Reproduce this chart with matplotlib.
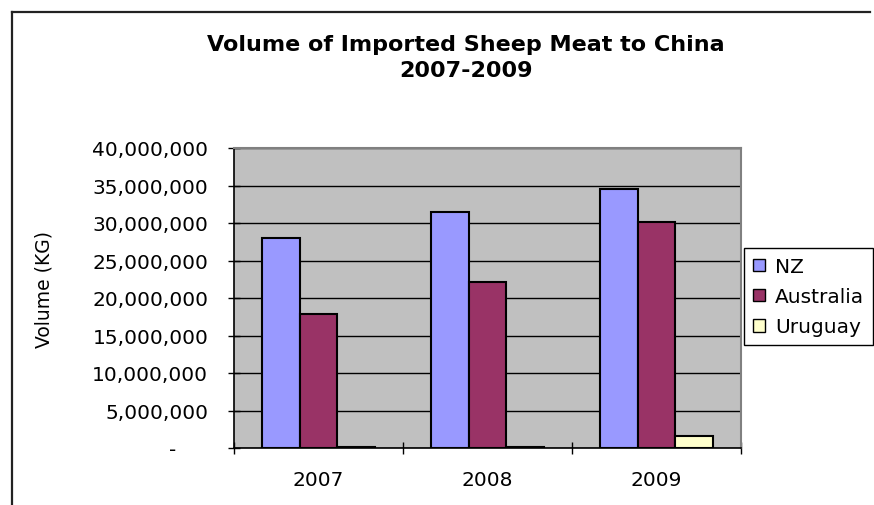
import matplotlib
matplotlib.use('Agg')
import matplotlib.pyplot as plt
import numpy as np
from matplotlib.lines import Line2D
from matplotlib.ticker import FuncFormatter, MultipleLocator, FixedLocator

# Datos
years = ['2007', '2008', '2009']
nz = [28_000_000, 31_500_000, 34_600_000]
australia = [17_900_000, 22_100_000, 30_100_000]
uruguay = [150_000, 150_000, 1_650_000]

series_names = ['NZ', 'Australia', 'Uruguay']
series_colors = ['#9999FF', '#993366', '#FFFFCC']

W, H = 874, 506
fig = plt.figure(figsize=(W / 100, H / 100), dpi=100)
plt.rcParams['font.family'] = ['DejaVu Sans']

# Marco exterior (solo izquierda y arriba visibles)
fx, fy = 12 / W, 1 - 13 / H
fig.add_artist(Line2D([fx, fx], [-0.05, fy], transform=fig.transFigure, color='#222222', lw=1.6))
fig.add_artist(Line2D([fx, 870 / W], [fy, fy], transform=fig.transFigure, color='#222222', lw=1.6))

ax = fig.add_axes([234 / W, 1 - 449 / H, (741 - 234) / W, (449 - 149) / H])
ax.set_facecolor('#C0C0C0')
ax.set_axisbelow(True)

x = np.arange(len(years))
w = 1 / 4.5
for i, (vals, name, col) in enumerate(zip([nz, australia, uruguay], series_names, series_colors)):
    ax.bar(x + (i - 1) * w, vals, width=w, color=col, edgecolor='black', linewidth=1.5, label=name)

ax.set_xlim(-0.5, 2.5)
ax.set_ylim(0, 40_000_000)
ax.yaxis.set_major_locator(MultipleLocator(5_000_000))
ax.yaxis.set_major_formatter(FuncFormatter(lambda v, p: '-     ' if v == 0 else f'{v:,.0f}'))
ax.grid(axis='y', color='black', linewidth=1)

# Marcas entre categorias, etiquetas en el centro
ax.xaxis.set_major_locator(FixedLocator([-0.5, 0.5, 1.5, 2.5]))
ax.xaxis.set_major_formatter(FuncFormatter(lambda v, p: ''))
ax.set_xticks(x, labels=years, minor=True)
ax.tick_params(axis='x', which='major', direction='inout', length=9, width=1)
ax.tick_params(axis='x', which='minor', length=0, pad=16, labelsize=14.5)
ax.tick_params(axis='y', direction='inout', length=9, width=1, pad=14, labelsize=14.5)

for s in ['left', 'bottom']:
    ax.spines[s].set_color('black')
    ax.spines[s].set_linewidth(1.2)
for s in ['top', 'right']:
    ax.spines[s].set_color('#808080')
    ax.spines[s].set_linewidth(1.5)

ax.set_ylabel('Volume (KG)', fontsize=13.5)
ax.yaxis.set_label_coords((53 - 234) / 507, (449 - 290) / 300)

fig.text(466 / W, 1 - 58 / H, 'Volume of Imported Sheep Meat to China\n2007-2009',
         ha='center', va='center', fontsize=16, fontweight='bold', linespacing=1.35)

leg = ax.legend(loc='upper left', bbox_to_anchor=(744 / W, 1 - 249 / H),
                bbox_transform=fig.transFigure, borderaxespad=0, fancybox=False,
                edgecolor='black', fontsize=14.5, handlelength=0.6, handleheight=0.6,
                handletextpad=0.5, labelspacing=0.55, borderpad=0.45, framealpha=1)
leg.get_frame().set_linewidth(1)
for h in leg.legend_handles:
    h.set_linewidth(1)

fig.savefig('out.png', dpi=100)
